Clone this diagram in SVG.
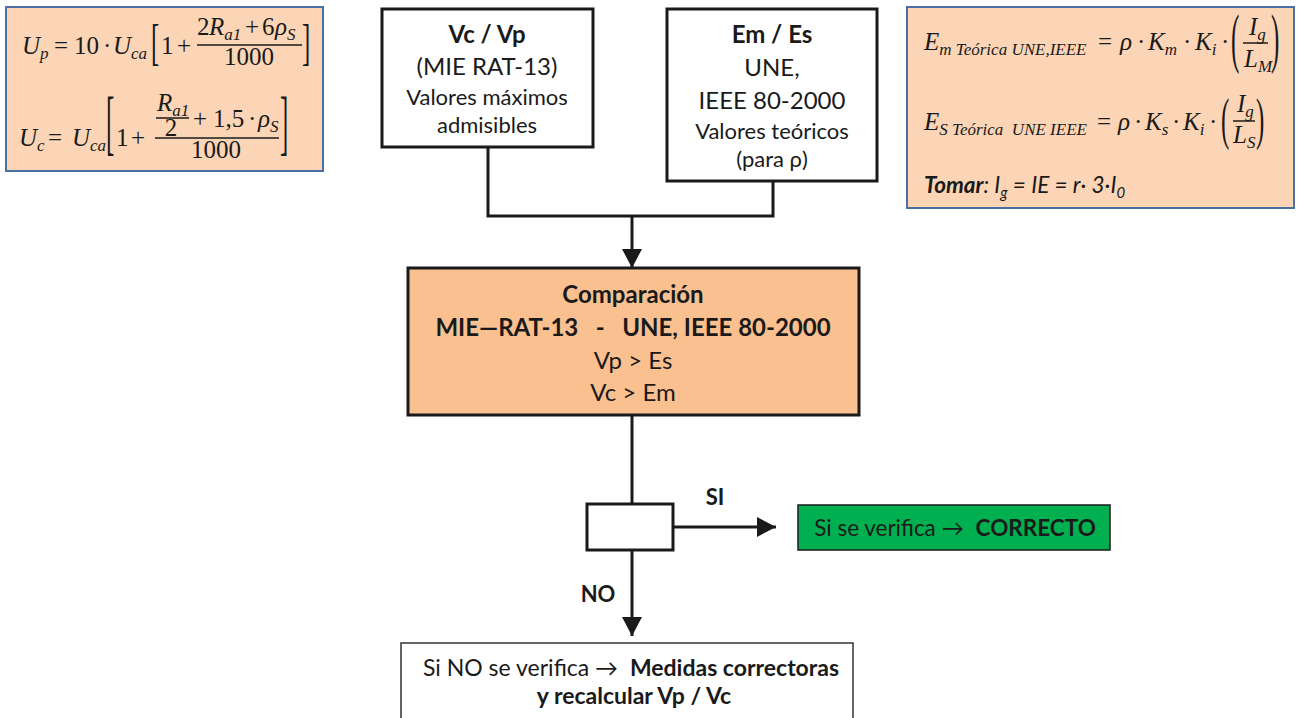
<svg xmlns="http://www.w3.org/2000/svg" width="1297" height="718" viewBox="0 0 1297 718">
<style>
.t{font-family:Lato,"Open Sans","Liberation Sans",sans-serif;fill:#1a1a1a;text-anchor:middle}
.b{font-weight:bold}
.m{font-family:"Liberation Serif","DejaVu Serif",serif;fill:#1a1a1a;font-size:25px}
.i{font-style:italic}
.f{fill:#fbd5b5;stroke:#4a6fa5;stroke-width:2}
.box{fill:#fff;stroke:#1a1a1a;stroke-width:3}
.c{fill:none;stroke:#1a1a1a;stroke-width:3}
.bar{stroke:#1a1a1a;stroke-width:1.5}
</style>
<defs>
<marker id="ah" markerUnits="userSpaceOnUse" markerWidth="22" markerHeight="22" refX="19" refY="10" orient="auto">
<path d="M0,0 L19,10 L0,20 Z" fill="#1a1a1a"/>
</marker>
</defs>
<rect width="1297" height="718" fill="#fff"/>

<g id="formula-left">
<rect class="f" x="6" y="7" width="317" height="164"/>
<text class="m" y="54"><tspan x="22" class="i">U</tspan><tspan class="i" font-size="17" dy="5">p</tspan><tspan x="54" dy="-5">=</tspan><tspan x="74">10</tspan><tspan x="103">·</tspan><tspan x="113" class="i">U</tspan><tspan class="i" font-size="17" dy="5">ca</tspan></text>
<text class="m" transform="translate(151,59) scale(1,2)">[</text>
<text class="m" y="54"><tspan x="161">1</tspan><tspan x="177">+</tspan></text>
<text class="m" y="35"><tspan x="197">2</tspan><tspan x="209" class="i">R</tspan><tspan class="i" font-size="17" dy="5">a1</tspan><tspan dy="-5" x="245">+</tspan><tspan x="262">6</tspan><tspan x="275" class="i">ρ</tspan><tspan class="i" font-size="17" dy="5">S</tspan></text>
<line class="bar" x1="197" y1="45" x2="302" y2="45"/>
<text class="m" x="249" y="65" text-anchor="middle">1000</text>
<text class="m" transform="translate(302,59) scale(1,2)">]</text>

<text class="m" y="146"><tspan x="19" class="i">U</tspan><tspan class="i" font-size="17" dy="5">c</tspan><tspan x="48" dy="-5">=</tspan><tspan x="72" class="i">U</tspan><tspan class="i" font-size="17" dy="5">ca</tspan></text>
<text class="m" transform="translate(106,146) scale(1,2.85)">[</text>
<text class="m" y="146"><tspan x="116">1</tspan><tspan x="131">+</tspan></text>
<text class="m" y="111" x="157"><tspan class="i">R</tspan><tspan class="i" font-size="17" dy="5">a1</tspan></text>
<line class="bar" x1="156" y1="118" x2="189" y2="118"/>
<text class="m" x="171" y="136" text-anchor="middle">2</text>
<text class="m" y="127"><tspan x="193">+</tspan><tspan x="213">1,5</tspan><tspan x="248">·</tspan><tspan x="258" class="i">ρ</tspan><tspan class="i" font-size="17" dy="5">S</tspan></text>
<line class="bar" x1="155" y1="138" x2="279" y2="138"/>
<text class="m" x="216" y="158" text-anchor="middle">1000</text>
<text class="m" transform="translate(280,146) scale(1,2.85)">]</text>
</g>

<g id="formula-right">
<rect class="f" x="907" y="7" width="387" height="201"/>
<text class="m" y="50"><tspan x="924" class="i">E</tspan><tspan class="i" font-size="17" dy="5">m Teórica UNE,IEEE</tspan><tspan dy="-5" x="1098">=</tspan><tspan x="1120" class="i">ρ</tspan><tspan x="1137">·</tspan><tspan x="1148" class="i">K</tspan><tspan class="i" font-size="17" dy="5">m</tspan><tspan dy="-5" x="1183">·</tspan><tspan x="1195" class="i">K</tspan><tspan class="i" font-size="17" dy="5">i</tspan><tspan dy="-5" x="1221">·</tspan></text>
<text class="m" transform="translate(1231,60) scale(1,2.6)">(</text>
<text class="m" y="35" x="1249"><tspan class="i">I</tspan><tspan class="i" font-size="17" dy="5">g</tspan></text>
<line class="bar" x1="1243" y1="43" x2="1268" y2="43"/>
<text class="m" y="67" x="1244"><tspan class="i">L</tspan><tspan class="i" font-size="17" dy="5">M</tspan></text>
<text class="m" transform="translate(1271,60) scale(1,2.6)">)</text>

<text class="m" y="130" xml:space="preserve"><tspan x="924" class="i">E</tspan><tspan class="i" font-size="17" dy="5">S Teórica  UNE IEEE</tspan><tspan dy="-5" x="1097">=</tspan><tspan x="1118" class="i">ρ</tspan><tspan x="1134">·</tspan><tspan x="1145" class="i">K</tspan><tspan class="i" font-size="17" dy="5">s</tspan><tspan dy="-5" x="1172">·</tspan><tspan x="1183" class="i">K</tspan><tspan class="i" font-size="17" dy="5">i</tspan><tspan dy="-5" x="1209">·</tspan></text>
<text class="m" transform="translate(1221,138) scale(1,2.3)">(</text>
<text class="m" y="112" x="1237"><tspan class="i">I</tspan><tspan class="i" font-size="17" dy="5">g</tspan></text>
<line class="bar" x1="1233" y1="121" x2="1255" y2="121"/>
<text class="m" y="143" x="1233"><tspan class="i">L</tspan><tspan class="i" font-size="17" dy="5">S</tspan></text>
<text class="m" transform="translate(1256,138) scale(1,2.3)">)</text>

<text class="t i" x="924" y="193" font-size="22.5" style="text-anchor:start"><tspan class="b">Tomar</tspan><tspan>: I</tspan><tspan font-size="15" dy="5">g</tspan><tspan dy="-5"> = IE = r· 3·I</tspan><tspan font-size="15" dy="5">0</tspan></text>
</g>

<g id="node-vcvp">
<rect class="box" x="382" y="9" width="211" height="138"/>
<text class="t b" x="487" y="43" font-size="24">Vc / Vp</text>
<text class="t" x="487" y="75" font-size="24">(MIE RAT-13)</text>
<text class="t" x="487" y="105" font-size="22">Valores máximos</text>
<text class="t" x="487" y="133" font-size="22">admisibles</text>
</g>

<g id="node-emes">
<rect class="box" x="667" y="9" width="210" height="172"/>
<text class="t b" x="772" y="43" font-size="24">Em / Es</text>
<text class="t" x="772" y="76" font-size="24">UNE,</text>
<text class="t" x="772" y="109" font-size="24">IEEE 80-2000</text>
<text class="t" x="772" y="139" font-size="22">Valores teóricos</text>
<text class="t" x="772" y="167" font-size="22">(para ρ)</text>
</g>

<g id="node-comparacion">
<rect x="408" y="268" width="451" height="147" fill="#fac090" stroke="#1a1a1a" stroke-width="3"/>
<text class="t b" x="633" y="303" font-size="24">Comparación</text>
<text class="t b" x="633" y="336" font-size="24" xml:space="preserve">MIE—RAT-13   -   UNE, IEEE 80-2000</text>
<text class="t" x="633" y="369" font-size="24">Vp &gt; Es</text>
<text class="t" x="633" y="401" font-size="24">Vc &gt; Em</text>
</g>

<g id="node-decision">
<rect class="box" x="587" y="504" width="86" height="46"/>
</g>

<g id="node-correcto">
<rect x="798" y="505" width="312" height="45" fill="#00b050" stroke="#1a1a1a" stroke-width="1.5"/>
<text class="t" x="955" y="536" font-size="22.5" xml:space="preserve">Si se verifica →  <tspan class="b">CORRECTO</tspan></text>
</g>

<g id="node-medidas">
<rect x="401" y="643" width="452" height="80" fill="#fff" stroke="#333" stroke-width="1.5"/>
<text class="t" x="631" y="676" font-size="23" xml:space="preserve">Si NO se verifica →  <tspan class="b">Medidas correctoras</tspan></text>
<text class="t b" x="634" y="704" font-size="23">y recalcular Vp / Vc</text>
</g>

<g id="connectors">
<path class="c" d="M488,147 V216 H773 V181"/>
<line class="c" x1="632" y1="216" x2="632" y2="268" marker-end="url(#ah)"/>
<line class="c" x1="632" y1="415" x2="632" y2="504"/>
<line class="c" x1="673" y1="527" x2="776" y2="527" stroke-width="2.5" marker-end="url(#ah)"/>
<line class="c" x1="632" y1="550" x2="632" y2="636" stroke-width="2.5" marker-end="url(#ah)"/>
<text class="t b" x="715" y="505" font-size="22">SI</text>
<text class="t b" x="598" y="602" font-size="22">NO</text>
</g>
</svg>
